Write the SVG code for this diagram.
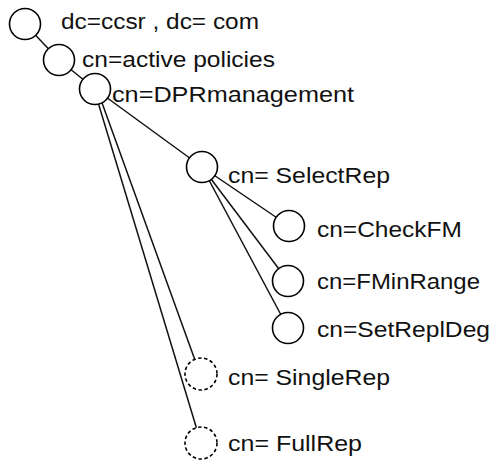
<svg xmlns="http://www.w3.org/2000/svg" width="491" height="462" viewBox="0 0 491 462">
<style>
.n{fill:#fff;stroke:#000;stroke-width:1.6}
.d{fill:#fff;stroke:#000;stroke-width:1.6;stroke-dasharray:3.5 2.5}
.e{stroke:#111;stroke-width:1.5;fill:none}
text{font-family:"Liberation Sans",Arial,sans-serif;font-size:22px;fill:#111}
</style>
<rect width="491" height="462" fill="#fff"/>
<g id="connectors">
<line class="e" x1="25" y1="24" x2="59" y2="60"/>
<line class="e" x1="59" y1="60" x2="95" y2="89"/>
<line class="e" x1="95" y1="89" x2="202" y2="167"/>
<line class="e" x1="97" y1="89" x2="200" y2="374"/>
<line class="e" x1="94" y1="89" x2="201" y2="443"/>
<line class="e" x1="202" y1="167" x2="289" y2="226"/>
<line class="e" x1="202" y1="167" x2="288" y2="281"/>
<line class="e" x1="202" y1="167" x2="288" y2="328"/>
</g>
<g id="n1"><circle class="n" cx="25" cy="24" r="15.5"/><text x="61" y="29" textLength="198" lengthAdjust="spacingAndGlyphs">dc=ccsr , dc= com</text></g>
<g id="n2"><circle class="n" cx="59" cy="60" r="15.5"/><text x="82" y="67" textLength="193" lengthAdjust="spacingAndGlyphs">cn=active policies</text></g>
<g id="n3"><circle class="n" cx="95" cy="89" r="15.5"/><text x="112" y="102" textLength="242" lengthAdjust="spacingAndGlyphs">cn=DPRmanagement</text></g>
<g id="n4"><circle class="n" cx="202" cy="167" r="15.5"/><text x="228" y="183" textLength="162" lengthAdjust="spacingAndGlyphs">cn= SelectRep</text></g>
<g id="n5"><circle class="n" cx="289" cy="226" r="15.5"/><text x="317" y="237" textLength="145" lengthAdjust="spacingAndGlyphs">cn=CheckFM</text></g>
<g id="n6"><circle class="n" cx="288" cy="281" r="15.5"/><text x="317" y="289" textLength="163" lengthAdjust="spacingAndGlyphs">cn=FMinRange</text></g>
<g id="n7"><circle class="n" cx="288" cy="328" r="15.5"/><text x="317" y="337" textLength="173" lengthAdjust="spacingAndGlyphs">cn=SetReplDeg</text></g>
<g id="n8"><circle class="d" cx="201" cy="374" r="16"/><text x="228" y="385" textLength="162" lengthAdjust="spacingAndGlyphs">cn= SingleRep</text></g>
<g id="n9"><circle class="d" cx="201" cy="443" r="16"/><text x="228" y="451" textLength="134" lengthAdjust="spacingAndGlyphs">cn= FullRep</text></g>
</svg>
